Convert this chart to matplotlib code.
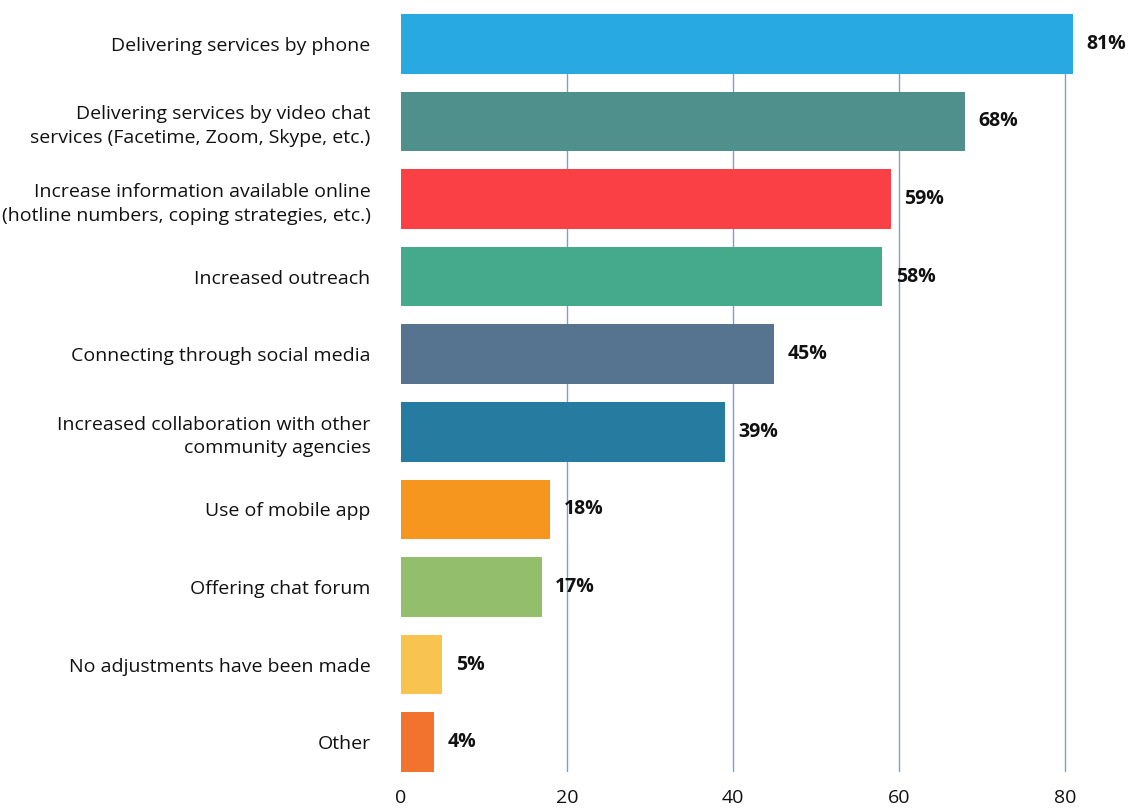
import matplotlib.pyplot as plt

plt.rcParams['font.family'] = ['Open Sans', 'DejaVu Sans']

categories = [
    'Delivering services by phone',
    'Delivering services by video chat\nservices (Facetime, Zoom, Skype, etc.)',
    'Increase information available online\n(hotline numbers, coping strategies, etc.)',
    'Increased outreach',
    'Connecting through social media',
    'Increased collaboration with other\ncommunity agencies',
    'Use of mobile app',
    'Offering chat forum',
    'No adjustments have been made',
    'Other',
]
values = [81, 68, 59, 58, 45, 39, 18, 17, 5, 4]
colors = ['#29A9E1', '#4F8F8C', '#FA4045', '#45AA8B', '#56738F',
          '#267CA0', '#F7961F', '#93BE6C', '#F8C44F', '#F1732E']
xticks = [0, 20, 40, 60, 80]

fig = plt.figure(figsize=(11.28, 8.10), dpi=100)
ax = fig.add_axes([401 / 1128, 1 - 772 / 810, (1128 - 401) / 1128, 758 / 810])

ypos = list(range(len(categories)))
bar_h = 0.77
ax.barh(ypos, values, height=bar_h, color=colors, zorder=2)

for y, v in zip(ypos, values):
    ax.text(v + 1.6, y, f'{v}%', va='center', ha='left',
            fontsize=14, fontweight='bold', color='#111111')

ax.set_xlim(0, 87.6)
ax.set_ylim(len(categories) - 1 + bar_h / 2, -bar_h / 2)
ax.set_xticks(xticks)
ax.set_xticklabels([str(t) for t in xticks], fontsize=14)
ax.set_yticks(ypos)
ax.set_yticklabels(categories, fontsize=14, linespacing=1.4)
ax.tick_params(axis='both', length=0, colors='#111111')
ax.tick_params(axis='y', pad=22)
ax.tick_params(axis='x', pad=12)

for t in xticks[1:]:
    ax.axvline(t, color='#7F9BDA', linewidth=1.0, zorder=1)

for s in ax.spines.values():
    s.set_visible(False)

fig.savefig('out.png', dpi=100)
